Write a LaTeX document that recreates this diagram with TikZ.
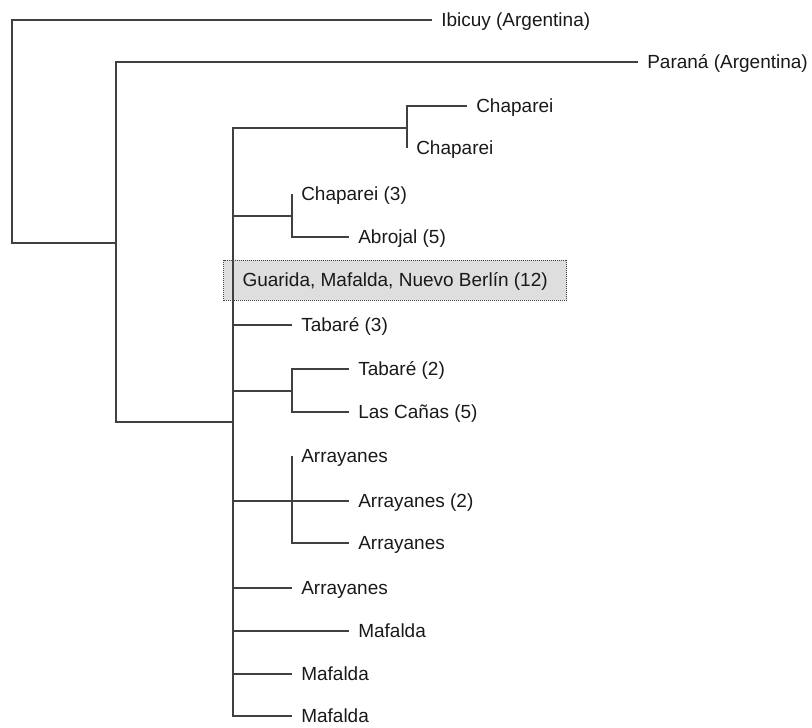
\documentclass[tikz,border=0pt]{standalone}
\usepackage{fontspec}
\setmainfont{Liberation Sans}
\begin{document}
\begin{tikzpicture}[x=0.75pt, y=-0.75pt,
    ramo/.style={draw=black!75, line width=0.9pt},
    foglia/.style={anchor=west, inner xsep=6.75pt, inner ysep=0pt, text height=10pt, text depth=0pt,
        font=\fontsize{14.25}{17}\selectfont, text=black!90},
    gruppo/.style={foglia, fill=black!13, draw=black!75, line width=0.75pt,
        dash pattern=on 0.75pt off 0.75pt, inner xsep=14.25pt, inner ysep=10pt}]
    \useasboundingbox (0,0) rectangle (812,727);

    % Nodi interni
    \coordinate (r) at (12,131);
    \coordinate (n1) at (116,243);
    \coordinate (n2) at (233,422);
    \coordinate (n3) at (407,128);
    \coordinate (n4) at (292,216);
    \coordinate (n5) at (292,391);
    \coordinate (n6) at (292,501);

    % Foglie
    \node[foglia] (ibicuy) at (432,20) {Ibicuy (Argentina)};
    \node[foglia] (parana) at (638,62) {Paraná (Argentina)};
    \node[foglia] (chap1) at (467,106) {Chaparei};
    \node[foglia] (chap2) at (407,148) {Chaparei};
    \node[foglia] (chap3) at (292,194) {Chaparei (3)};
    \node[foglia] (abrojal) at (349,237) {Abrojal (5)};
    \node[gruppo] (guarida) at (223,280) {Guarida, Mafalda, Nuevo Berlín (12)};
    \node[foglia] (tabare3) at (292,325) {Tabaré (3)};
    \node[foglia] (tabare2) at (349,369) {Tabaré (2)};
    \node[foglia] (canas) at (349,412) {Las Cañas (5)};
    \node[foglia] (arr1) at (292,456) {Arrayanes};
    \node[foglia] (arr2) at (349,501) {Arrayanes (2)};
    \node[foglia] (arr3) at (349,543) {Arrayanes};
    \node[foglia] (arr4) at (292,588) {Arrayanes};
    \node[foglia] (maf1) at (349,631) {Mafalda};
    \node[foglia] (maf2) at (292,674) {Mafalda};
    \node[foglia] (maf3) at (292,716) {Mafalda};

    % Rami
    \draw[ramo] (r) |- (ibicuy.west);
    \draw[ramo] (r) |- (n1);
    \draw[ramo] (n1) |- (parana.west);
    \draw[ramo] (n1) |- (n2);
    \foreach \f in {n3, n4, n5, n6}
        \draw[ramo] (n2) |- (\f);
    \foreach \f in {tabare3, arr4, maf1, maf2, maf3}
        \draw[ramo] (n2) |- (\f.west);
    \foreach \f in {chap1, chap2}
        \draw[ramo] (n3) |- (\f.west);
    \foreach \f in {chap3, abrojal}
        \draw[ramo] (n4) |- (\f.west);
    \foreach \f in {tabare2, canas}
        \draw[ramo] (n5) |- (\f.west);
    \foreach \f in {arr1, arr2, arr3}
        \draw[ramo] (n6) |- (\f.west);
\end{tikzpicture}
\end{document}
